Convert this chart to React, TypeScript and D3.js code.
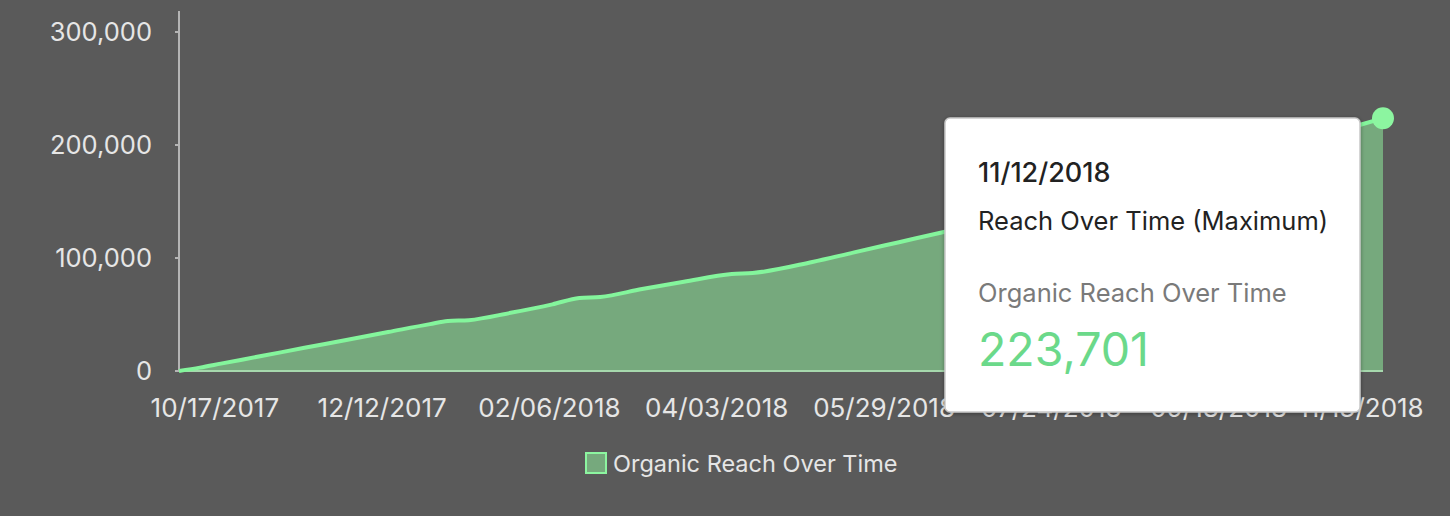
import React from 'react'
import * as d3 from 'd3'

// reach samples (cumulative organic reach)
const dates = [
    '10/05/2017', '10/12/2017', '10/19/2017', '11/02/2017', '11/16/2017', '11/30/2017',
    '12/14/2017', '12/28/2017', '01/03/2018', '01/10/2018', '01/24/2018', '02/07/2018',
    '02/16/2018', '02/23/2018', '03/09/2018', '03/23/2018', '04/08/2018', '04/15/2018',
    '05/05/2018', '05/19/2018', '06/03/2018', '06/18/2018', '07/02/2018', '07/16/2018',
    '07/30/2018', '08/13/2018', '08/27/2018', '09/10/2018', '09/24/2018', '10/08/2018',
    '10/22/2018', '11/05/2018', '11/12/2018',
]
const reach = [
    0, 3000, 6500, 13500, 20500, 27500,
    34500, 41500, 44200, 45000, 51500, 59000,
    64600, 65500, 72500, 79000, 85800, 86700,
    96500, 105000, 114000, 123000, 132000, 141000,
    150000, 159500, 169000, 178500, 188000, 198000,
    208000, 218400, 223701,
]
const xTicks = [
    '10/17/2017', '12/12/2017', '02/06/2018', '04/03/2018',
    '05/29/2018', '07/24/2018', '09/18/2018', '11/13/2018',
]
const yTicks = [0, 100000, 200000, 300000]

const seriesName = 'Organic Reach Over Time'
const tooltipTitle = 'Reach Over Time (Maximum)'

const W = 1450
const H = 516
const margin = { top: 11, right: 67, bottom: 145, left: 179 }
const font = 'Inter, "Noto Sans", sans-serif'

const parse = d3.timeParse('%m/%d/%Y')
const fmt = d3.format(',')

export default function App() {
    const data = dates.map((d, i) => ({ date: parse(d)!, value: reach[i] }))
    const last = data[data.length - 1]

    const x = d3
        .scaleTime()
        .domain(d3.extent(data, (d) => d.date) as [Date, Date])
        .range([margin.left, W - margin.right])
    const y = d3
        .scaleLinear()
        .domain([0, 300000])
        .range([H - margin.bottom, 32])
    const y0 = y(0)

    const area = d3
        .area<{ date: Date; value: number }>()
        .x((d) => x(d.date))
        .y0(y0)
        .y1((d) => y(d.value))
        .curve(d3.curveMonotoneX)
    const line = d3
        .line<{ date: Date; value: number }>()
        .x((d) => x(d.date))
        .y((d) => y(d.value))
        .curve(d3.curveMonotoneX)

    const tipX = 945
    const tipY = 118
    const tipW = 415
    const tipH = 294

    return (
        <svg
            width={W}
            height={H}
            style={{ position: 'absolute', left: 0, top: 0, fontFamily: font }}
        >
            <defs>
                <filter id="shadow" x="-10%" y="-10%" width="120%" height="120%">
                    <feDropShadow dx="0" dy="1" stdDeviation="2" floodColor="#000" floodOpacity="0.35" />
                </filter>
            </defs>
            <rect width={W} height={H} fill="#5a5a5a" />

            {/* y axis */}
            <line x1={margin.left} x2={margin.left} y1={margin.top} y2={y0} stroke="#b4b4b4" strokeWidth={2} />
            {yTicks.map((t) => (
                <g key={t} transform={`translate(0,${y(t)})`}>
                    <line x1={margin.left - 4} x2={margin.left} stroke="#b4b4b4" strokeWidth={2} />
                    <text x={152} dy="0.36em" textAnchor="end" fill="#e6e6e6" fontSize={25.5}>
                        {fmt(t)}
                    </text>
                </g>
            ))}

            {/* area + line */}
            <path d={area(data)!} fill="#76a97d" />
            <line x1={x(data[0].date)} x2={x(last.date)} y1={y0} y2={y0} stroke="#a6d8ad" strokeWidth={2} />
            <path d={line(data)!} fill="none" stroke="#84f59c" strokeWidth={4} strokeLinejoin="round" />
            <circle cx={x(last.date)} cy={y(last.value)} r={11} fill="#8cf5a0" />

            {/* x labels */}
            {xTicks.map((t, i) => {
                const px = x(parse(t)!)
                const half = 64
                const cx = Math.min(px, 1425 - half)
                return (
                    <text key={i} x={cx} y={417} textAnchor="middle" fill="#e6e6e6" fontSize={26}>
                        {t}
                    </text>
                )
            })}

            {/* legend */}
            <rect x={586} y={453} width={20} height={20} fill="#76a97d" stroke="#8cf5a0" strokeWidth={2} />
            <text x={613} y={472} fill="#e6e6e6" fontSize={23.5}>
                {seriesName}
            </text>

            {/* tooltip */}
            <g filter="url(#shadow)">
                <rect x={tipX} y={tipY} width={tipW} height={tipH} rx={5} fill="#fff" stroke="#c8c8c8" strokeWidth={1.5} />
            </g>
            <text x={978} y={182} fill="#222" fontSize={27} fontWeight={500}>
                {d3.timeFormat('%m/%d/%Y')(last.date)}
            </text>
            <text x={978} y={230} fill="#222" fontSize={25.5}>
                {tooltipTitle}
            </text>
            <text x={978} y={302} fill="#7a7a7a" fontSize={25.5}>
                {seriesName}
            </text>
            <text x={978} y={366} fill="#6bd98a" fontSize={46.5}>
                {fmt(last.value)}
            </text>
        </svg>
    )
}
